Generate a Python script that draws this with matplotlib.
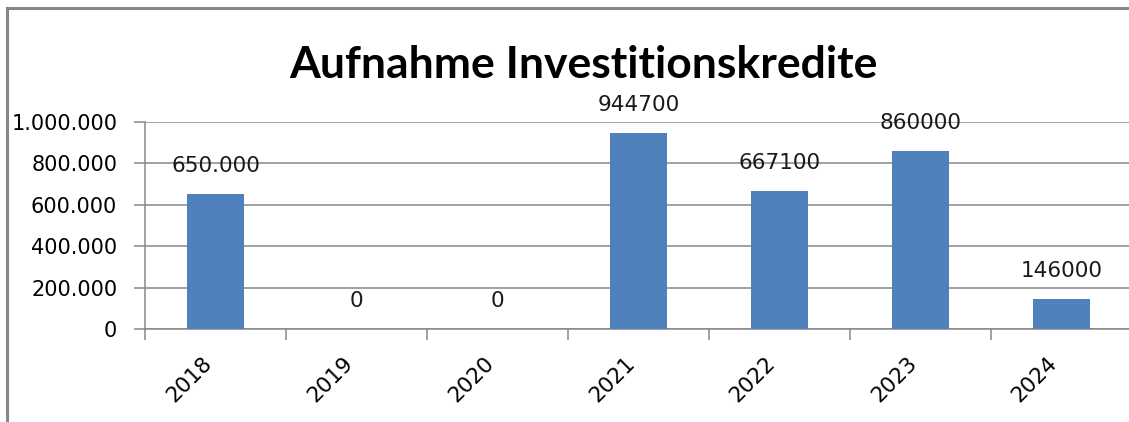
import numpy as np
import matplotlib
matplotlib.use("Agg")
import matplotlib.pyplot as plt
from matplotlib.lines import Line2D

# data
years = ["2018", "2019", "2020", "2021", "2022", "2023", "2024"]
amounts = [650000, 0, 0, 944700, 667100, 860000, 146000]
labels = ["650.000", "0", "0", "944700", "667100", "860000", "146000"]
yticks = [0, 200000, 400000, 600000, 800000, 1000000]
yticklabels = ["0", "200.000", "400.000", "600.000", "800.000", "1.000.000"]

grey = "#878787"
blue = "#4F81BD"

fig = plt.figure(figsize=(11.29, 4.22), dpi=100)
ax = fig.add_axes([145 / 1129, 93 / 422, 987 / 1129, 207 / 422])

x = np.arange(len(years))
ax.bar(x, amounts, width=0.4, color=blue, zorder=3)

for xi, v, lab in zip(x, amounts, labels):
    ax.annotate(lab, (xi, v), xytext=(0, 28), textcoords="offset pixels",
                ha="center", va="center", fontsize=15.5, color="#1a1a1a",
                family="DejaVu Sans", zorder=4)

ax.set_xlim(-0.5, len(years) - 0.5)
ax.set_ylim(0, 1000000)
ax.set_yticks(yticks)
ax.set_yticklabels(yticklabels, fontsize=15, family="DejaVu Sans")
ax.set_xticks(x)
ax.set_xticklabels(years, rotation=45, ha="right", fontsize=15.5, family="DejaVu Sans")
ax.set_xticks(np.arange(len(years) + 1) - 0.5, minor=True)
ax.tick_params(axis="x", which="major", length=0, pad=17)
ax.tick_params(axis="x", which="minor", length=8, width=1.1, color=grey)
ax.tick_params(axis="y", length=8, width=1.1, color=grey, pad=12)

ax.grid(axis="y", color=grey, linewidth=1.1, zorder=0)
for s in ["top", "right"]:
    ax.spines[s].set_visible(False)
for s in ["left", "bottom"]:
    ax.spines[s].set_color(grey)
    ax.spines[s].set_linewidth(1.1)

fig.text(583 / 1129, 1 - 78 / 422, "Aufnahme Investitionskredite", ha="center",
         va="baseline", fontsize=32, fontweight="bold", family="Lato")

# outer chart frame (top and left edges visible)
fig.add_artist(Line2D([7 / 1129, 1], [1 - 8 / 422, 1 - 8 / 422], color=grey,
                      linewidth=2.2, transform=fig.transFigure))
fig.add_artist(Line2D([7 / 1129, 7 / 1129], [0, 1 - 8 / 422], color=grey,
                      linewidth=2.2, transform=fig.transFigure))

fig.savefig("out.png", dpi=100)
